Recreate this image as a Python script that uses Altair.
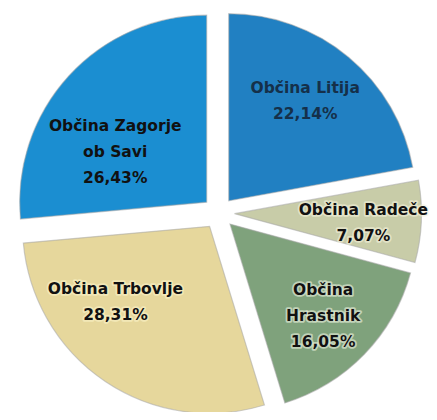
import math
import altair as alt
import pandas as pd

categories = ["Občina Litija", "Občina Radeče", "Občina Hrastnik", "Občina Trbovlje", "Občina Zagorje ob Savi"]
values = [22.14, 7.07, 16.05, 28.31, 26.43]
label_names = ["Občina Litija", "Občina Radeče", "Občina\nHrastnik", "Občina Trbovlje", "Občina Zagorje\nob Savi"]
colors = ["#2180c2", "#c8cca8", "#7fa27c", "#e6d79c", "#1b8ed1"]

df = pd.DataFrame({
    "category": categories,
    "value": values,
    "order": list(range(len(categories))),
    "label": [f"{n}\n{v:.2f}".replace(".", ",") + "%" for n, v in zip(label_names, values)],
})

RADIUS = 187
EXPLODE = 16
LABEL_R = 140

theta_scale = alt.Scale(domain=[0, 100], range=[0, 2 * math.pi])
color_scale = alt.Scale(domain=categories, range=colors)

base = alt.Chart(df).transform_window(
    cum="sum(value)", sort=[{"field": "order"}]
).transform_calculate(
    start="datum.cum - datum.value",
    ang="(datum.cum - datum.value / 2) / 100 * 2 * PI",
).transform_calculate(
    px=f"width / 2 + {EXPLODE} * sin(datum.ang)",
    py=f"height / 2 - {EXPLODE} * cos(datum.ang)",
    tx=f"width / 2 + {LABEL_R} * sin(datum.ang)",
    ty=f"height / 2 - {LABEL_R} * cos(datum.ang)",
)

arcs = base.mark_arc(outerRadius=RADIUS, stroke="#a8a8a8", strokeWidth=1.2, strokeOpacity=0.55).encode(
    theta=alt.Theta("start:Q", scale=theta_scale),
    theta2="cum:Q",
    x=alt.X("px:Q", scale=None, axis=None),
    y=alt.Y("py:Q", scale=None, axis=None),
    color=alt.Color("category:N", scale=color_scale, legend=None),
)

offsets = [(-3, -18), (5, -9), (4, -20), (-25, -40), (0, 7)]
text_colors = ["#15304a", "#111111", "#111111", "#111111", "#111111"]
glow = [None, "#f4f2dc", "#eef3e0", "#fbf3c8", None]
layers = [arcs]
for i, (dx, dy) in enumerate(offsets):
    sub = base.transform_filter(f"datum.order == {i}")
    enc = dict(
        x=alt.X("tx:Q", scale=None, axis=None),
        y=alt.Y("ty:Q", scale=None, axis=None),
        text="label:N",
    )
    common = dict(
        dx=dx, dy=dy, font="DejaVu Sans", fontSize=15.5, fontWeight="bold",
        lineBreak="\n", lineHeight=26, align="center", baseline="middle",
    )
    if glow[i]:
        layers.append(sub.mark_text(
            color=glow[i], stroke=glow[i], strokeWidth=3.5, strokeOpacity=0.6,
            strokeJoin="round", **common
        ).encode(**enc))
    layers.append(sub.mark_text(color=text_colors[i], **common).encode(**enc))

chart = alt.layer(*layers).properties(
    width=421, height=398,
    padding={"left": 0, "top": 6, "right": 0, "bottom": 0},
    autosize=alt.AutoSizeParams(type="none"),
    background="#ffffff",
).configure_view(stroke=None)

chart.save("out.html", embed_options={"renderer": "svg", "actions": False})
